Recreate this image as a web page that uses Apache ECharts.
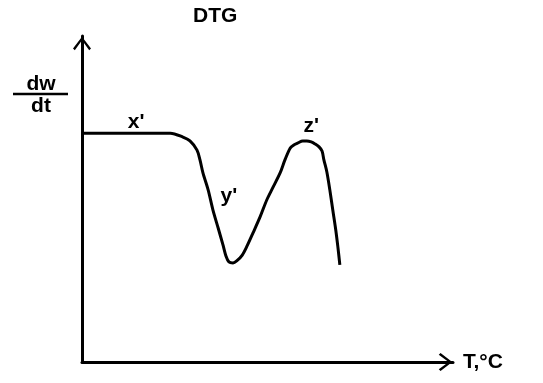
<!DOCTYPE html>
<html>
<head>
<meta charset="utf-8">
<script src="https://cdn.jsdelivr.net/npm/echarts@6/dist/echarts.min.js"></script>
<style>
  html, body { margin: 0; padding: 0; background: #ffffff; }
  #chart { width: 543px; height: 383px; }
</style>
</head>
<body>
<div id="chart"></div>
<script>
// DTG curve: temperature (arbitrary units) vs. rate of weight change dw/dt
var temperature = [0, 10.2, 23.8, 27.2, 29.1, 31.0, 31.8, 32.6, 34.0, 35.3, 36.7, 38.0, 38.8, 39.6, 40.7, 41.7, 43.2, 44.5, 46.1, 48.0, 49.8, 51.4, 53.4, 54.7, 56.1, 57.1, 58.2, 59.5, 60.6, 61.8, 62.8, 63.9, 64.7, 65.2, 66.0, 66.8, 67.6, 68.4, 69.0, 69.5];
var dwdt = [70.2, 70.2, 70.2, 69.0, 67.8, 65.0, 62.0, 58.0, 52.8, 46.6, 41.1, 35.9, 32.5, 30.7, 30.4, 31.0, 32.8, 35.6, 39.6, 44.5, 49.7, 53.4, 58.0, 62.0, 65.6, 66.6, 67.2, 67.8, 67.8, 67.5, 66.9, 66.0, 64.7, 62.0, 58.3, 52.8, 46.6, 40.5, 35.0, 29.8];

// Stage markers placed next to the curve
var stageNames = ["x'", "y'", "z'"];
var stageT = [14.6, 39.6, 61.8];
var stageRate = [73.6, 50.9, 72.4];

var chartTitle = 'DTG';
var xAxisName = 'T,\u00B0C';
var yAxisTop = 'dw';
var yAxisBottom = 'dt';

var FONT = '"Liberation Sans", Arial, sans-serif';
var FSIZE = 21;

// open chevron arrow head (tip at the top of the box)
var chevron = 'path://M10 0 L20 13 L18 15 L10 4 L2 15 L0 13 Z';

var curve = temperature.map(function (t, i) { return [t, dwdt[i]]; });
var stages = stageNames.map(function (n, i) {
  return { name: n, value: [stageT[i], stageRate[i]] };
});

var chart = echarts.init(document.getElementById('chart'), null, { renderer: 'canvas' });

function axisCommon(extra) {
  var base = {
    type: 'value',
    min: 0,
    max: 100,
    axisLine: {
      show: true,
      onZero: false,
      symbol: ['none', chevron],
      symbolSize: [18, 15],
      symbolOffset: [0, -7.5],
      lineStyle: { color: '#000', width: 3 }
    },
    axisTick: { show: false },
    axisLabel: { show: false },
    splitLine: { show: false }
  };
  for (var k in extra) base[k] = extra[k];
  return base;
}

chart.setOption({
  animation: false,
  backgroundColor: '#ffffff',
  title: {
    text: chartTitle,
    left: 193,
    top: 6,
    padding: 0,
    textStyle: { fontFamily: FONT, fontSize: FSIZE, fontWeight: 'bold', color: '#000' }
  },
  grid: { left: 82, right: 90, top: 36, bottom: 21 },
  xAxis: axisCommon({
    name: xAxisName,
    nameLocation: 'end',
    nameGap: 10,
    nameTextStyle: { fontFamily: FONT, fontSize: FSIZE, fontWeight: 'bold', color: '#000', verticalAlign: 'middle' }
  }),
  yAxis: axisCommon({}),
  graphic: [
    {
      type: 'text', x: 41, y: 74,
      style: { text: yAxisTop, font: 'bold ' + FSIZE + 'px ' + FONT, fill: '#000', textAlign: 'center' }
    },
    {
      type: 'line',
      shape: { x1: 13, y1: 94, x2: 68, y2: 94 },
      style: { stroke: '#000', lineWidth: 2.5 }
    },
    {
      type: 'text', x: 41, y: 96,
      style: { text: yAxisBottom, font: 'bold ' + FSIZE + 'px ' + FONT, fill: '#000', textAlign: 'center' }
    }
  ],
  series: [
    {
      type: 'line',
      data: curve,
      showSymbol: false,
      smooth: 0.3,
      lineStyle: { color: '#000', width: 3 }
    },
    {
      type: 'scatter',
      data: stages,
      symbolSize: 0,
      itemStyle: { opacity: 1 },
      label: {
        show: true,
        position: 'inside',
        formatter: '{b}',
        fontFamily: FONT,
        fontSize: FSIZE,
        fontWeight: 'bold',
        color: '#000'
      }
    }
  ]
});
</script>
</body>
</html>
